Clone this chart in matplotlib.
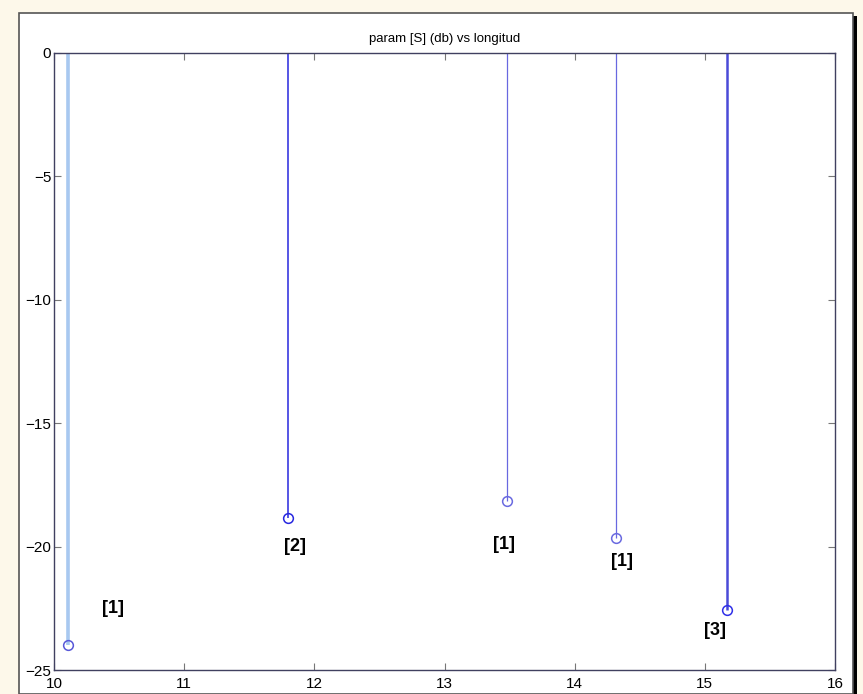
import matplotlib.pyplot as plt
from matplotlib.patches import Rectangle

plt.rcParams['font.family'] = ['Liberation Sans', 'DejaVu Sans']

# stems: longitud vs param [S] (db)
xs = [10.11, 11.80, 13.48, 14.32, 15.17]
vals = [-24.0, -18.85, -18.15, -19.65, -22.55]
# annotations
lab_txt = ['[1]', '[2]', '[1]', '[1]', '[3]']
lab_x = [10.45, 11.85, 13.46, 14.36, 15.08]
lab_y = [-22.5, -20.0, -19.9, -20.6, -23.4]

stem_col = ['#a8c8f0', '#3838e0', '#6868e0', '#6868e0', '#4a4ad8']
stem_lw = [2.6, 1.2, 0.9, 0.9, 1.8]
mark_col = ['#5858d8', '#2828e0', '#6a6ae0', '#6a6ae0', '#3030e8']

fig = plt.figure(figsize=(8.63, 6.94), dpi=100)
fig.patch.set_facecolor('#fdf8ea')

# white panel with a shadowed frame
fig.patches.append(Rectangle((23 / 863, 0), 834 / 863, (694 - 16) / 694,
                             transform=fig.transFigure, facecolor='black',
                             edgecolor='none', zorder=0))
fig.patches.append(Rectangle((19 / 863, 0), 834 / 863, (694 - 13) / 694,
                             transform=fig.transFigure, facecolor='white',
                             edgecolor='#555555', lw=1.2, zorder=1))

ax = fig.add_axes([54 / 863, 24 / 694, 781 / 863, 617 / 694])
ax.set_zorder(5)
ax.set_facecolor('white')

for i in range(len(xs)):
    ax.plot([xs[i], xs[i]], [0, vals[i]], color=stem_col[i], lw=stem_lw[i],
            solid_capstyle='butt', zorder=2)
    ax.plot(xs[i], vals[i], 'o', mfc='none', mec=mark_col[i], ms=7, mew=1.1,
            zorder=3)
    ax.text(lab_x[i], lab_y[i], lab_txt[i], ha='center', va='center',
            fontsize=13, fontweight='bold', color='black')

ax.set_xlim(10, 16)
ax.set_ylim(-25, 0)
ax.set_xticks(range(10, 17))
ax.set_yticks(range(-25, 1, 5))
ax.tick_params(direction='in', top=True, right=True, length=5,
               color='#777777', labelsize=11, pad=2)
ax.tick_params(axis='x', pad=5)
for s in ax.spines.values():
    s.set_color('#404060')
    s.set_linewidth(1.0)
ax.set_title('param [S] (db) vs longitud', fontsize=9.5, pad=8)

fig.savefig('out.png', dpi=100, facecolor=fig.get_facecolor())
